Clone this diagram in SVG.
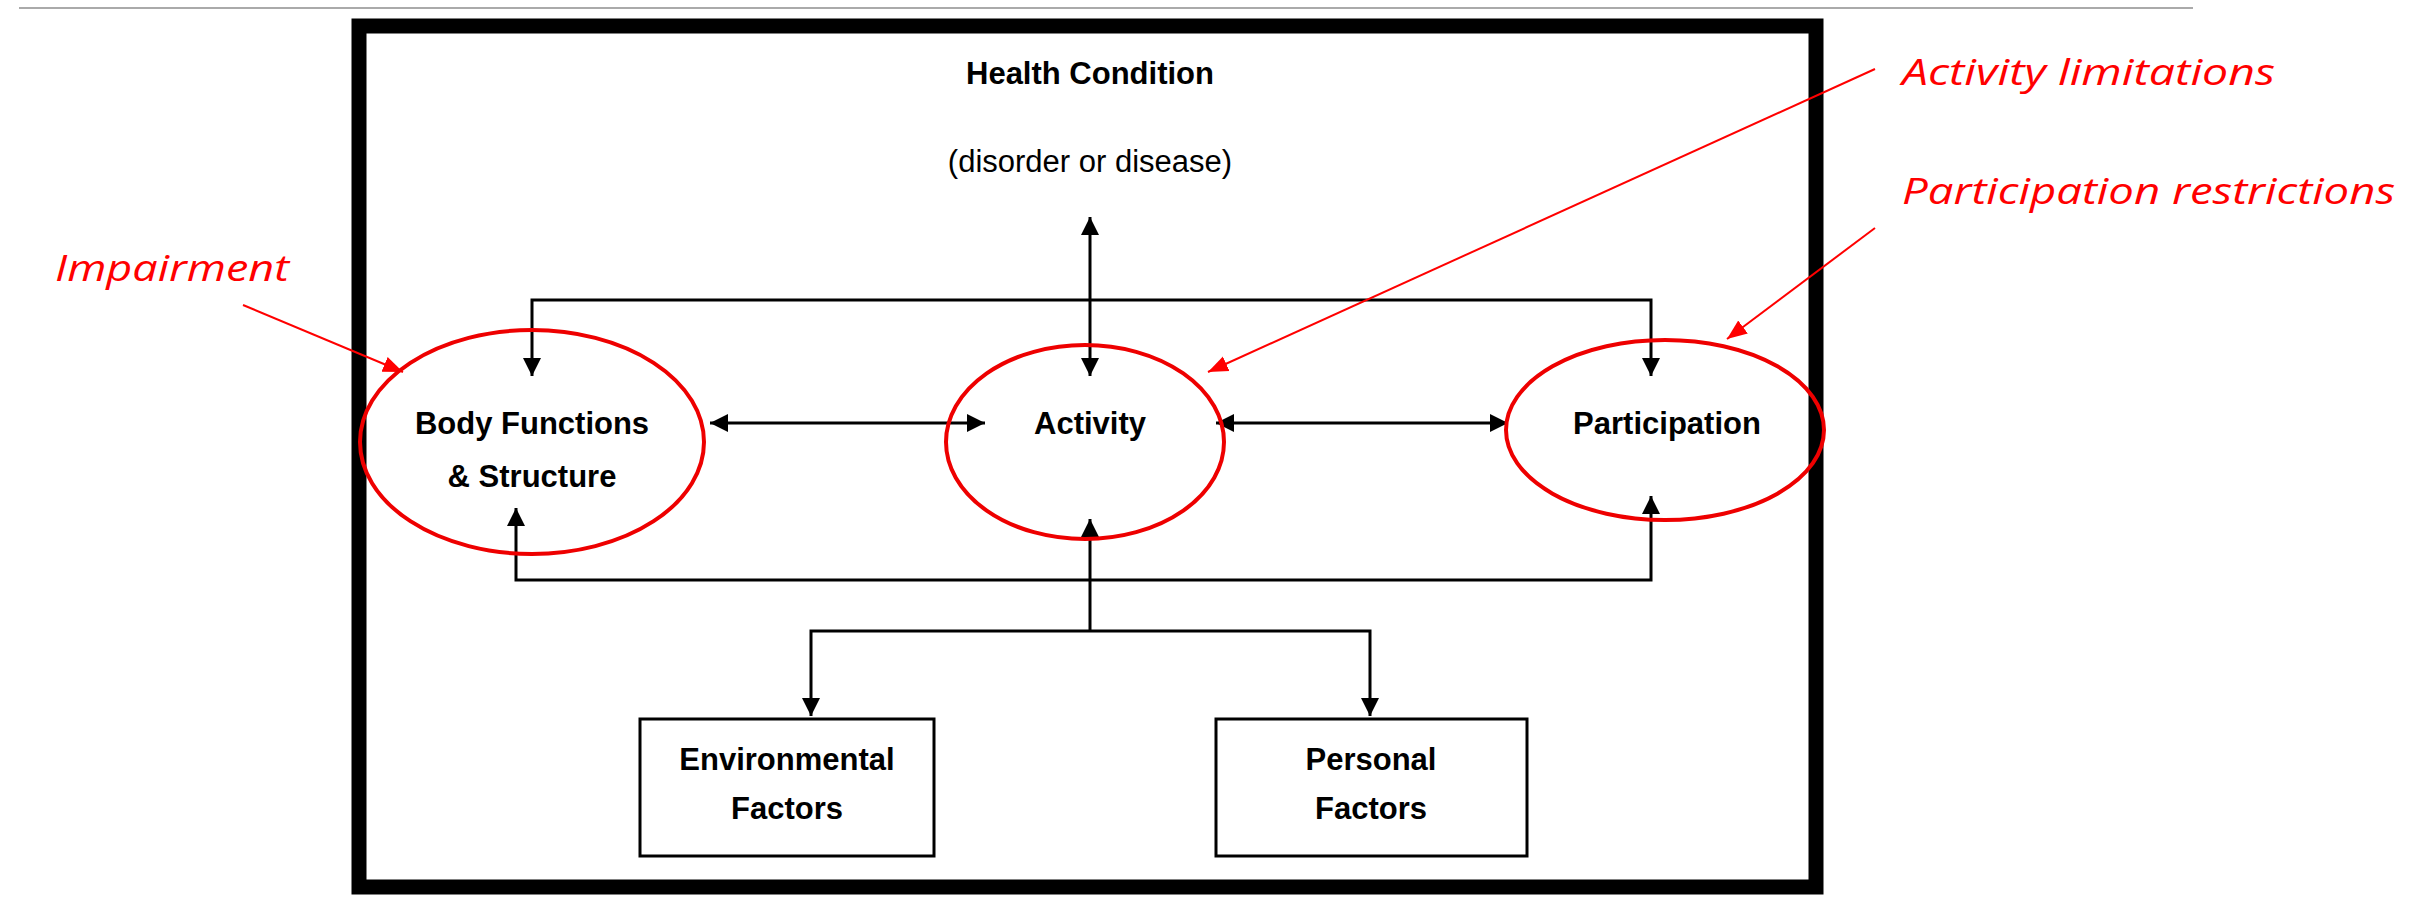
<svg xmlns="http://www.w3.org/2000/svg" width="2413" height="907" viewBox="0 0 2413 907">
<style>
.b{font-family:"Liberation Sans",Arial,sans-serif;font-weight:bold;font-size:31px;fill:#000;text-anchor:middle}
.n{font-family:"Liberation Sans",Arial,sans-serif;font-size:31px;fill:#000;text-anchor:middle}
.r{font-family:"Open Sans","Liberation Sans",sans-serif;font-style:italic;font-size:36px;fill:#f00}
.c{stroke:#000;stroke-width:3;fill:none}
.ra{stroke:#f00;stroke-width:2;fill:none;marker-end:url(#rh)}
.e{fill:none;stroke:#e00;stroke-width:4}
</style>
<defs>
<marker id="ah" viewBox="0 0 10 10" refX="10" refY="5" markerWidth="6" markerHeight="6" orient="auto-start-reverse" markerUnits="strokeWidth"><path d="M0,0L10,5L0,10z" fill="#000"/></marker>
<marker id="rh" viewBox="0 0 10 10" refX="10" refY="5" markerWidth="10" markerHeight="10" orient="auto" markerUnits="strokeWidth"><path d="M0,1L10,5L0,9z" fill="#f00"/></marker>
</defs>
<rect width="2413" height="907" fill="#fff"/>
<line x1="19" y1="8" x2="2193" y2="8" stroke="#aaa" stroke-width="2"/>
<rect x="359" y="26" width="1457" height="861" fill="none" stroke="#000" stroke-width="15"/>
<g id="health"><text class="b" x="1090" y="84">Health Condition</text><text class="n" x="1090" y="172">(disorder or disease)</text></g>
<g id="connectors">
<line class="c" x1="1090" y1="217" x2="1090" y2="376" marker-start="url(#ah)" marker-end="url(#ah)"/>
<polyline class="c" points="532,376 532,300 1651,300 1651,376" marker-start="url(#ah)" marker-end="url(#ah)"/>
<line class="c" x1="710" y1="423" x2="985" y2="423" marker-start="url(#ah)" marker-end="url(#ah)"/>
<line class="c" x1="1216" y1="423" x2="1508" y2="423" marker-start="url(#ah)" marker-end="url(#ah)"/>
<polyline class="c" points="516,508 516,580 1651,580 1651,496" marker-start="url(#ah)" marker-end="url(#ah)"/>
<line class="c" x1="1090" y1="631" x2="1090" y2="519" marker-end="url(#ah)"/>
<polyline class="c" points="811,716 811,631 1370,631 1370,716" marker-start="url(#ah)" marker-end="url(#ah)"/>
<line class="ra" x1="243" y1="305" x2="403" y2="372"/>
<line class="ra" x1="1875" y1="69" x2="1208" y2="372"/>
<line class="ra" x1="1875" y1="228" x2="1727" y2="339"/>
</g>
<g id="body"><ellipse class="e" cx="532" cy="442" rx="172" ry="112"/><text class="b" x="532" y="434">Body Functions</text><text class="b" x="532" y="487">&amp; Structure</text></g>
<g id="activity"><ellipse class="e" cx="1085" cy="442" rx="139" ry="97"/><text class="b" x="1090" y="434">Activity</text></g>
<g id="participation"><ellipse class="e" cx="1665" cy="430" rx="159" ry="90"/><text class="b" x="1667" y="434">Participation</text></g>
<g id="env"><rect x="640" y="719" width="294" height="137" fill="#fff" stroke="#000" stroke-width="3"/><text class="b" x="787" y="770">Environmental</text><text class="b" x="787" y="819">Factors</text></g>
<g id="personal"><rect x="1216" y="719" width="311" height="137" fill="#fff" stroke="#000" stroke-width="3"/><text class="b" x="1371" y="770">Personal</text><text class="b" x="1371" y="819">Factors</text></g>
<g id="labels">
<text class="r" x="55" y="281" textLength="234" lengthAdjust="spacingAndGlyphs">Impairment</text>
<text class="r" x="1902" y="85" textLength="373" lengthAdjust="spacingAndGlyphs">Activity limitations</text>
<text class="r" x="1902" y="204" textLength="493" lengthAdjust="spacingAndGlyphs">Participation restrictions</text>
</g>
</svg>
